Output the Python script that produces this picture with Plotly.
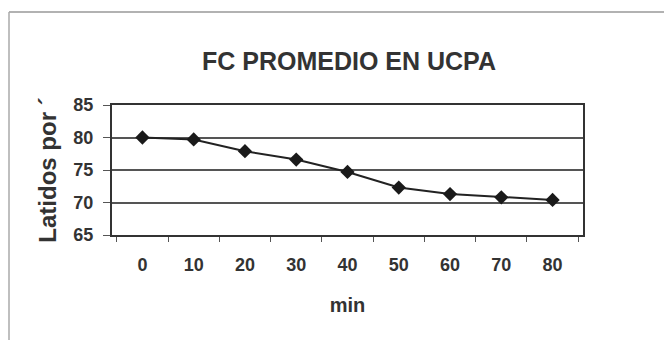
import plotly.graph_objects as go

categories = ["0", "10", "20", "30", "40", "50", "60", "70", "80"]
fc_values = [80.0, 79.7, 77.9, 76.6, 74.7, 72.3, 71.3, 70.8, 70.4]
y_ticks = [65, 70, 75, 80, 85]

FONT = "Liberation Sans, Arial, sans-serif"
OFF = 8  # page body margin offset compensation

fig = go.Figure()
fig.add_trace(go.Scatter(
    x=categories, y=fc_values, mode="lines+markers",
    line=dict(color="#222222", width=2),
    marker=dict(symbol="diamond", size=11, color="#1a1a1a"),
    showlegend=False,
))

W, H = 672, 340
L, R, T, B = 112 - OFF, W - 583 + OFF, 105 - OFF, H - 235 + OFF
PW, PH = W - L - R, H - T - B

fig.update_layout(
    width=W, height=H,
    margin=dict(l=L, r=R, t=T, b=B),
    paper_bgcolor="white", plot_bgcolor="white",
    font=dict(family=FONT, color="#222222"),
    title=dict(text="<b>FC PROMEDIO EN UCPA</b>", font=dict(size=25, color="#333333"),
               x=(349 - OFF)/W, xref="container", xanchor="center",
               y=1 - (61 - OFF)/H, yref="container", yanchor="middle", automargin=False),
    xaxis=dict(type="category", tickson="boundaries", ticks="outside", ticklen=5,
               tickcolor="#555", showline=True, linecolor="#333", linewidth=2, mirror=True,
               showgrid=False, automargin=False,
               tickfont=dict(size=18, color="#333", weight="bold"),
               ticklabelstandoff=12,
               title=dict(text="<b>min</b>", font=dict(size=20, color="#333"), standoff=24)),
    yaxis=dict(range=[65, 85], tickvals=y_ticks, ticks="outside", ticklen=7,
               tickcolor="#555", showline=True, linecolor="#333", linewidth=2, mirror=True,
               showgrid=True, gridcolor="#555", gridwidth=1.5, zeroline=False,
               automargin=False,
               tickfont=dict(size=18, color="#333", weight="bold"), ticklabelstandoff=6,
               title=dict(text="<b>Latidos por ´</b>", font=dict(size=24, color="#333"), standoff=10)),
)

fx0 = (1 - L) / PW
fx1 = (W - L) / PW
fy0 = (H - B - (12 - OFF)) / PH
fy1 = (H - B - H) / PH
fig.add_shape(type="line", xref="paper", yref="paper", x0=fx0, x1=fx1,
              y0=fy0, y1=fy0, line=dict(color="#999", width=1.5))
fig.add_shape(type="line", xref="paper", yref="paper", x0=fx0, x1=fx0,
              y0=fy0, y1=fy1, line=dict(color="#aaa", width=1.5))

fig.write_html("out.html")
